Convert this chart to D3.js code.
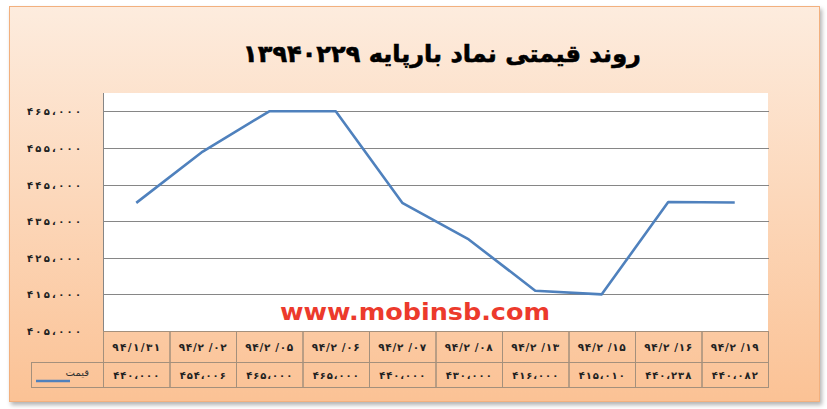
<!DOCTYPE html>
<html lang="fa">
<head>
<meta charset="UTF-8">
<script src="https://d3js.org/d3.v7.min.js"></script>
<style>
  body { margin: 0; background: #fff; }
  svg { display: block; }
  text { font-family: 'DejaVu Sans', sans-serif; }
</style>
</head>
<body>
<div id="chart"></div>
<script>
// داده‌ها
const dates = ["۹۴/۱/۳۱", "۹۴/۲ /۰۲", "۹۴/۲ /۰۵", "۹۴/۲ /۰۶", "۹۴/۲ /۰۷",
               "۹۴/۲ /۰۸", "۹۴/۲ /۱۳", "۹۴/۲ /۱۵", "۹۴/۲ /۱۶", "۹۴/۲ /۱۹"];
const prices = [440000, 454006, 465000, 465000, 440000, 430000, 416000, 415010, 440238, 440082];
const yTicks = [405000, 415000, 425000, 435000, 445000, 455000, 465000];
const seriesName = "قیمت";
const title = "روند قیمتی نماد بارپایه ۱۳۹۴۰۲۲۹";

const W = 827, H = 409;
const plot = { left: 103, right: 768, top: 93, bottom: 331 };
const rowH = [31, 25];

// عدد فارسی با جداکننده
const fa = "۰۱۲۳۴۵۶۷۸۹";
function faNum(v) {
  const s = String(v);
  const a = s.slice(0, s.length - 3), b = s.slice(-3);
  return (a + "،" + b).replace(/[0-9]/g, d => fa[+d]);
}

const svg = d3.select("#chart").append("svg")
  .attr("width", W).attr("height", H);

const defs = svg.append("defs");
const grad = defs.append("linearGradient").attr("id", "bg")
  .attr("x1", 0).attr("y1", 0).attr("x2", 0).attr("y2", 1);
grad.append("stop").attr("offset", "0%").attr("stop-color", "#FDECDE");
grad.append("stop").attr("offset", "100%").attr("stop-color", "#FBC295");
const shadow = defs.append("filter").attr("id", "sh")
  .attr("x", "-5%").attr("y", "-5%").attr("width", "110%").attr("height", "115%");
shadow.append("feDropShadow").attr("dx", 2).attr("dy", 3).attr("stdDeviation", 2)
  .attr("flood-color", "#000").attr("flood-opacity", 0.3);

// قاب
svg.append("rect")
  .attr("x", 9.5).attr("y", 6.5).attr("width", 810).attr("height", 395)
  .attr("fill", "url(#bg)").attr("stroke", "#F2B07E").attr("stroke-width", 1)
  .attr("filter", "url(#sh)");

// عنوان
svg.append("text")
  .attr("x", 442).attr("y", 62)
  .attr("text-anchor", "middle")
  .attr("direction", "rtl")
  .attr("font-size", "24px").attr("font-weight", "bold")
  .attr("stroke", "#000").attr("stroke-width", 0.6)
  .attr("fill", "#000")
  .text(title);

// ناحیه نمودار
svg.append("rect")
  .attr("x", plot.left).attr("y", plot.top)
  .attr("width", plot.right - plot.left).attr("height", plot.bottom - plot.top)
  .attr("fill", "#fff");

const x = d3.scaleBand().domain(dates).range([plot.left, plot.right]);
const y = d3.scaleLinear().domain([405000, 470000]).range([plot.bottom, plot.top]);

// خطوط شبکه
svg.append("g").selectAll("line").data(yTicks).join("line")
  .attr("x1", plot.left).attr("x2", plot.right + 1)
  .attr("y1", d => Math.round(y(d)) + 0.5).attr("y2", d => Math.round(y(d)) + 0.5)
  .attr("stroke", "#868686").attr("stroke-width", 1);

svg.append("line")
  .attr("x1", plot.left + 0.5).attr("x2", plot.left + 0.5)
  .attr("y1", plot.top).attr("y2", plot.bottom)
  .attr("stroke", "#868686");

// برچسب‌های محور عمودی
svg.append("g").selectAll("text").data(yTicks).join("text")
  .attr("x", 81).attr("y", d => y(d) + 4)
  .attr("text-anchor", "end")
  .attr("font-size", "10px").attr("font-weight", "bold")
  .attr("textLength", 54).attr("lengthAdjust", "spacing")
  .attr("fill", "#222")
  .text(d => faNum(d));

// واترمارک
svg.append("text")
  .attr("x", 415).attr("y", 320)
  .attr("text-anchor", "middle")
  .attr("font-family", "'Liberation Sans', Arial, sans-serif")
  .attr("font-size", "23px").attr("font-weight", "bold")
  .attr("fill", "#EC3A2C")
  .attr("textLength", 270).attr("lengthAdjust", "spacingAndGlyphs")
  .text("www.mobinsb.com");

// خط قیمت
const line = d3.line()
  .x((d, i) => x(dates[i]) + x.bandwidth() / 2)
  .y(d => y(d));

svg.append("path")
  .datum(prices)
  .attr("d", line)
  .attr("fill", "none")
  .attr("stroke", "#4F81BD")
  .attr("stroke-width", 2.6)
  .attr("stroke-linejoin", "round");

// جدول داده
const tbl = svg.append("g");
const r1 = plot.bottom, r2 = plot.bottom + rowH[0], r3 = r2 + rowH[1];
const border = "#A4907C";

tbl.selectAll("rect.d").data(dates).join("rect")
  .attr("x", d => x(d) + 0.5).attr("y", r1 + 0.5)
  .attr("width", x.bandwidth()).attr("height", rowH[0])
  .attr("fill", "none").attr("stroke", border);

tbl.selectAll("rect.v").data(dates).join("rect")
  .attr("x", d => x(d) + 0.5).attr("y", r2 + 0.5)
  .attr("width", x.bandwidth()).attr("height", rowH[1])
  .attr("fill", "none").attr("stroke", border);

tbl.append("rect")
  .attr("x", 31.5).attr("y", r2 + 0.5)
  .attr("width", plot.left - 31).attr("height", rowH[1])
  .attr("fill", "none").attr("stroke", border);

tbl.selectAll("text.d").data(dates).join("text")
  .attr("x", d => x(d) + x.bandwidth() / 2).attr("y", r1 + 20)
  .attr("text-anchor", "middle")
  .attr("font-size", "10.5px").attr("font-weight", "bold")
  .attr("textLength", 48).attr("lengthAdjust", "spacing")
  .attr("fill", "#222")
  .text(d => d);

tbl.selectAll("text.v").data(prices).join("text")
  .attr("x", (d, i) => x(dates[i]) + x.bandwidth() / 2).attr("y", r2 + 17)
  .attr("text-anchor", "middle")
  .attr("font-size", "10px").attr("font-weight", "bold")
  .attr("textLength", 46).attr("lengthAdjust", "spacing")
  .attr("fill", "#222")
  .text(d => faNum(d));

// راهنما
tbl.append("line")
  .attr("x1", 36).attr("x2", 70)
  .attr("y1", r2 + 19).attr("y2", r2 + 19)
  .attr("stroke", "#4F81BD").attr("stroke-width", 2.6);

tbl.append("text")
  .attr("x", 89).attr("y", r2 + 14)
  .attr("text-anchor", "end")
  .attr("font-size", "10px")
  .attr("fill", "#333")
  .text(seriesName);
</script>
</body>
</html>
